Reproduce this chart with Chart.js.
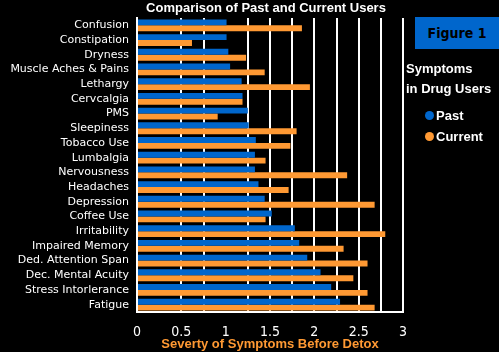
<!DOCTYPE html>
<html>
<head>
<meta charset="utf-8">
<script src="https://cdn.jsdelivr.net/npm/chart.js@4.4.1/dist/chart.umd.min.js"></script>
<style>
  html, body { margin: 0; padding: 0; background: #000; }
  #wrap { position: relative; width: 499px; height: 352px; background: #000; overflow: hidden; }
  #c { position: absolute; left: 0; top: 0; }
  .fig { position: absolute; left: 415px; top: 17px; width: 84px; height: 32px; background: #0066cc;
         color: #000; font: bold 14px "DejaVu Sans Condensed", "DejaVu Sans", sans-serif; line-height: 32px; text-align: center; }
  .lg { position: absolute; color: #fff; font: bold 13px "Liberation Sans", Arial, sans-serif; white-space: nowrap; }
  .dot { display: inline-block; width: 9px; height: 9px; border-radius: 50%; margin-right: 2px; vertical-align: 0px; }
</style>
</head>
<body>
<div id="wrap">
  <canvas id="c" width="499" height="352"></canvas>
  <div class="fig">Figure 1</div>
  <div class="lg" style="left:406px; top:61px;">Symptoms</div>
  <div class="lg" style="left:406px; top:81px;">in Drug Users</div>
  <div class="lg" style="left:425px; top:108px;"><span class="dot" style="background:#0066cc"></span>Past</div>
  <div class="lg" style="left:425px; top:129px;"><span class="dot" style="background:#ff9933"></span>Current</div>
</div>
<script>
const categories = ["Confusion", "Constipation", "Dryness", "Muscle Aches & Pains", "Lethargy", "Cervcalgia", "PMS",
  "Sleepiness", "Tobacco Use", "Lumbalgia", "Nervousness", "Headaches", "Depression", "Coffee Use",
  "Irritability", "Impaired Memory", "Ded. Attention Span", "Dec. Mental Acuity", "Stress Intorlerance", "Fatigue"];
const pastValues = [1.01, 1.01, 1.03, 1.05, 1.18, 1.19, 1.25, 1.26, 1.34, 1.33, 1.33, 1.37, 1.44, 1.52, 1.78, 1.83, 1.92, 2.07, 2.19, 2.29];
const currentValues = [1.86, 0.62, 1.23, 1.44, 1.95, 1.19, 0.91, 1.80, 1.73, 1.45, 2.37, 1.71, 2.68, 1.45, 2.80, 2.33, 2.60, 2.44, 2.60, 2.68];
const xTickLabels = ["0", "0.5", "1", "1.5", "2", "2.5", "3"];
const chartTitle = "Comparison of Past and Current Users";
const xAxisTitle = "Severty of Symptoms Before Detox";

const titlePlugin = {
  id: 'topTitle',
  afterDraw(chart) {
    const ctx = chart.ctx, a = chart.chartArea;
    ctx.save();
    ctx.fillStyle = '#fff';
    ctx.font = 'bold 13px "Liberation Sans", Arial, sans-serif';
    ctx.textAlign = 'center';
    ctx.textBaseline = 'middle';
    ctx.fillText(chartTitle, (a.left + a.right) / 2 - 4, 8);
    ctx.restore();
  }
};

new Chart(document.getElementById('c'), {
  type: 'bar',
  data: {
    labels: categories,
    datasets: [
      { label: 'Past', data: pastValues, backgroundColor: '#0066cc', borderWidth: 0 },
      { label: 'Current', data: currentValues, backgroundColor: '#ff9933', borderWidth: 0 }
    ]
  },
  options: {
    indexAxis: 'y',
    responsive: false,
    animation: false,
    devicePixelRatio: 1,
    layout: { padding: { top: 18, right: 96, left: 0, bottom: 0 } },
    datasets: { bar: { categoryPercentage: 0.8, barPercentage: 1.0 } },
    plugins: { legend: { display: false }, title: { display: false }, tooltip: { enabled: false } },
    scales: {
      x: {
        min: 0, max: 3,
        afterFit(s) { s.height = 40; },
        ticks: {
          stepSize: 0.25,
          autoSkip: false,
          maxRotation: 0,
          minRotation: 0,
          color: '#fff',
          padding: 12,
          font: { family: '"DejaVu Sans Condensed", "DejaVu Sans", sans-serif', size: 14 },
          callback(v) {
            const i = Math.round(v * 2);
            return Math.abs(v * 2 - i) < 1e-6 ? xTickLabels[i] : '';
          }
        },
        grid: {
          drawTicks: false,
          lineWidth: 2,
          color(ctx) {
            const v = ctx.tick ? ctx.tick.value : 0;
            if (Math.abs(v - 0.25) < 1e-6 || Math.abs(v - 1) < 1e-6 || v === 0) return 'rgba(0,0,0,0)';
            return '#fff';
          }
        },
        border: { display: true, color: '#fff', width: 2 },
        title: {
          display: true, text: xAxisTitle, color: '#ff9933',
          font: { family: '"Liberation Sans", Arial, sans-serif', size: 13, weight: 'bold' },
          padding: { top: 0, bottom: 0 }
        }
      },
      y: {
        afterFit(s) { s.width = 137; },
        ticks: {
          autoSkip: false,
          color: '#fff',
          padding: 8,
          font: { family: '"DejaVu Sans", sans-serif', size: 11 }
        },
        grid: { display: false, drawTicks: false },
        border: { display: true, color: '#fff', width: 2 }
      }
    }
  },
  plugins: [titlePlugin]
});
</script>
</body>
</html>
